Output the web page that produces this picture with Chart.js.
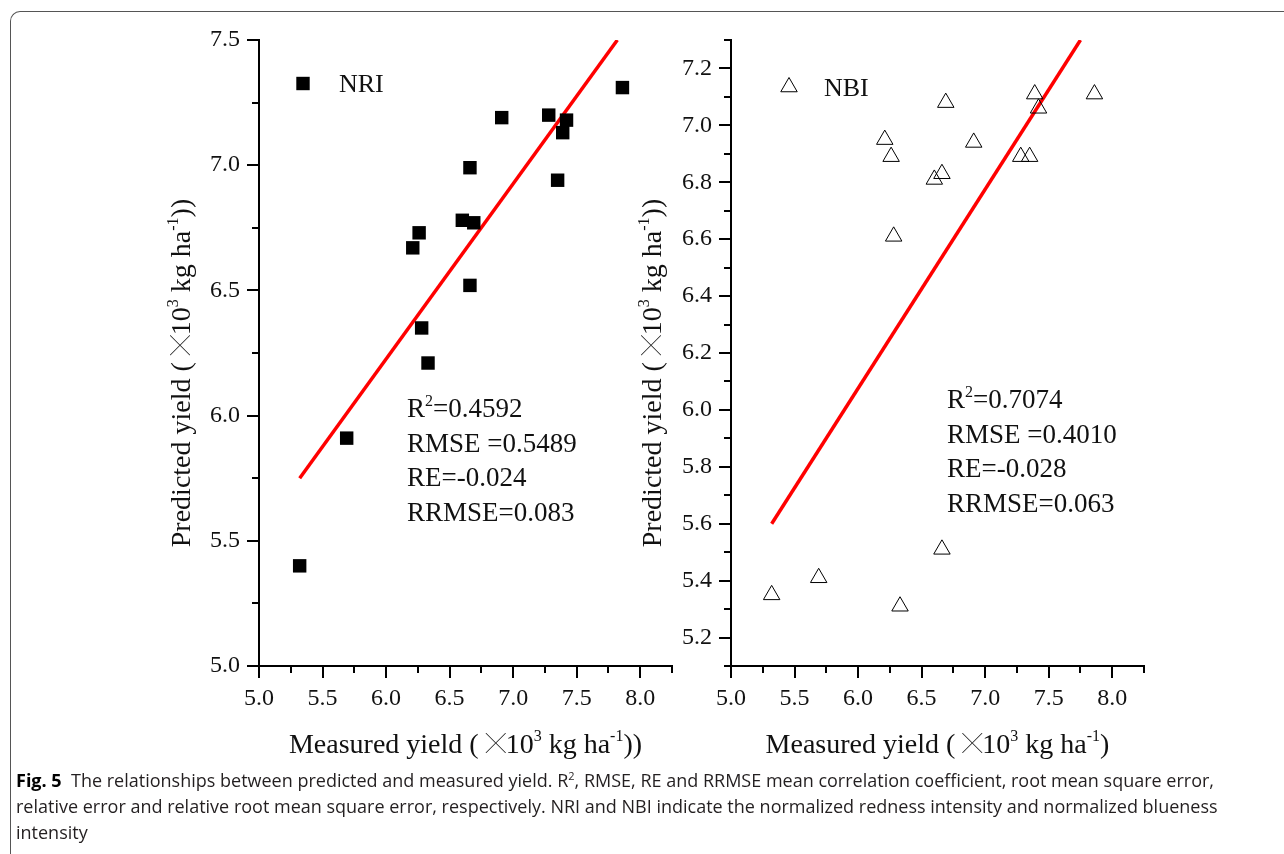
<!DOCTYPE html>
<html>
<head>
<meta charset="utf-8">
<title>Predicted vs measured yield</title>
<script src="https://cdn.jsdelivr.net/npm/chart.js@4.4.1/dist/chart.umd.min.js"></script>
<style>
  body { margin: 0; background: #fff; width: 1284px; height: 854px; overflow: hidden; position: relative; }
  #frame { position: absolute; left: 10px; top: 11px; width: 1400px; height: 900px;
           border-left: 1.5px solid #555; border-top: 1.5px solid #555; border-top-left-radius: 10px; }
  .plot { position: absolute; top: 0; }
  #plotNRI { left: 0; }
  #plotNBI { left: 600px; }
  #caption { position: absolute; left: 16px; top: 767px; white-space: nowrap;
             font-family: "Open Sans", "Noto Sans", sans-serif; font-size: 18px; line-height: 26px; color: #231f20; }
  #caption b { font-weight: 700; color: #000; }
  #caption sup { font-size: 11px; line-height: 0; }
</style>
</head>
<body>
<div id="frame"></div>
<canvas id="plotNRI" class="plot" width="700" height="780"></canvas>
<canvas id="plotNBI" class="plot" width="560" height="780"></canvas>
<div id="caption"><b>Fig. 5</b>&nbsp; The relationships between predicted and measured yield. R<sup>2</sup>, RMSE, RE and RRMSE mean correlation coefficient, root mean square error,<br>relative error and relative root mean square error, respectively. NRI and NBI indicate the normalized redness intensity and normalized blueness<br>intensity</div>

<script>
// measured yield (x10^3 kg/ha), shared by both panels
const measured = [5.32, 5.69, 6.21, 6.26, 6.28, 6.33, 6.60, 6.66, 6.66, 6.69, 6.91, 7.28, 7.35, 7.39, 7.42, 7.86];
// predicted yield from the NRI and NBI models
const predictedNRI = [5.40, 5.91, 6.67, 6.73, 6.35, 6.21, 6.78, 6.99, 6.52, 6.77, 7.19, 7.20, 6.94, 7.13, 7.18, 7.31];
const predictedNBI = [5.35, 5.41, 6.95, 6.89, 6.61, 5.31, 6.81, 6.83, 5.51, 7.08, 6.94, 6.89, 6.89, 7.11, 7.06, 7.11];

// fitted lines, start and end points
const fitNRIx = [5.32, 7.82];
const fitNRIy = [5.75, 7.50];
const fitNBIx = [5.32, 7.75];
const fitNBIy = [5.60, 7.30];

// statistics printed in each panel
const statNames = ['R', 'RMSE =', 'RE=', 'RRMSE='];
const statsNRI = ['0.4592', '0.5489', '-0.024', '0.083'];
const statsNBI = ['0.7074', '0.4010', '-0.028', '0.063'];

const SERIF = '"Liberation Serif", "Times New Roman", serif';
const CROSS = '╳';

function points(xs, ys) {
  return xs.map((x, i) => ({ x: x, y: ys[i] }));
}

// draws a row of text pieces; 's' = superscript, 'c' = the cross glyph
function fontFor(kind, size) {
  if (kind === 's') return Math.round(size * 0.58) + 'px ' + SERIF;
  if (kind === 'c') return Math.round(size * 0.72) + 'px "Noto Sans CJK SC", "DejaVu Sans", sans-serif';
  return size + 'px ' + SERIF;
}
function richWidth(ctx, parts, size) {
  let w = 0;
  parts.forEach(p => {
    ctx.font = fontFor(p[1], size);
    w += ctx.measureText(p[0]).width;
  });
  return w;
}
function drawRich(ctx, parts, x, y, size) {
  ctx.textBaseline = 'alphabetic';
  ctx.textAlign = 'left';
  parts.forEach(p => {
    ctx.font = fontFor(p[1], size);
    let dy = 0;
    if (p[1] === 's') dy = -size * 0.42;
    if (p[1] === 'c') dy = -size * 0.06;
    ctx.fillText(p[0], x, y + dy);
    x += ctx.measureText(p[0]).width;
  });
}

function unitTitle(word, closing) {
  return [[word + ' ( ', 'n'], [CROSS, 'c'], ['10', 'n'], ['3', 's'], [' kg ha', 'n'], ['-1', 's'], [closing, 'n']];
}

// outward ticks: long on labelled values, short on the rest
const tickMarks = {
  id: 'tickMarks',
  afterDraw(chart) {
    const ctx = chart.ctx;
    const sx = chart.scales.x, sy = chart.scales.y;
    ctx.save();
    ctx.strokeStyle = '#000';
    ctx.lineWidth = 2;
    sx.ticks.forEach(t => {
      const px = Math.round(sx.getPixelForValue(t.value));
      ctx.beginPath();
      ctx.moveTo(px, sx.top);
      ctx.lineTo(px, sx.top + (t.label ? 12 : 7));
      ctx.stroke();
    });
    sy.ticks.forEach(t => {
      const py = Math.round(sy.getPixelForValue(t.value));
      ctx.beginPath();
      ctx.moveTo(sy.right, py);
      ctx.lineTo(sy.right - (t.label ? 12 : 7), py);
      ctx.stroke();
    });
    ctx.restore();
  }
};

// axis titles, legend entry and the statistics block
const figureText = {
  id: 'figureText',
  afterDraw(chart, args, opts) {
    const ctx = chart.ctx;
    const a = chart.chartArea;
    ctx.save();
    ctx.fillStyle = '#111';

    // x title
    const xt = opts.xTitle;
    const xw = richWidth(ctx, xt, 28);
    drawRich(ctx, xt, (a.left + a.right) / 2 - xw / 2, a.bottom + 87, 28);

    // y title, rotated
    const yt = opts.yTitle;
    const yw = richWidth(ctx, yt, 28);
    ctx.save();
    ctx.translate(a.left - opts.yTitleGap, a.top + opts.yTitleMid);
    ctx.rotate(-Math.PI / 2);
    drawRich(ctx, yt, -yw / 2, 0, 28);
    ctx.restore();

    // legend entry
    const lg = opts.legend;
    const mx = a.left + lg.mx, my = a.top + lg.my;
    ctx.fillStyle = '#000';
    ctx.strokeStyle = '#000';
    ctx.lineWidth = 1;
    if (lg.style === 'rect') {
      ctx.fillRect(mx - 6.7, my - 6.7, 13.4, 13.4);
    } else {
      const r = 9.5;
      ctx.beginPath();
      ctx.moveTo(mx, my - r);
      ctx.lineTo(mx + r * 0.866, my + r / 2);
      ctx.lineTo(mx - r * 0.866, my + r / 2);
      ctx.closePath();
      ctx.stroke();
    }
    ctx.fillStyle = '#111';
    drawRich(ctx, [[lg.text, 'n']], a.left + lg.tx, a.top + lg.ty, 26);

    // statistics
    const st = opts.stats;
    st.values.forEach((v, i) => {
      const y = a.top + st.y + i * 34.5;
      const parts = i === 0
        ? [[statNames[0], 'n'], ['2', 's'], ['=' + v, 'n']]
        : [[statNames[i] + v, 'n']];
      drawRich(ctx, parts, a.left + st.x, y, 27);
    });
    ctx.restore();
  }
};

function makePanel(canvasId, pred, fitX, fitY, marker, yRange, yStep, yLabel, yWidth, padRight, text) {
  const scatter = {
    data: points(measured, pred),
    showLine: false,
    pointStyle: marker,
    pointRadius: 9.5,
    pointHoverRadius: 9.5,
    backgroundColor: marker === 'rect' ? '#000' : 'rgba(0,0,0,0)',
    borderColor: '#000',
    borderWidth: marker === 'rect' ? 0 : 1,
    order: 1
  };
  const fit = {
    data: points(fitX, fitY),
    showLine: true,
    borderColor: '#ff0000',
    borderWidth: 3.5,
    pointRadius: 0,
    order: 2
  };
  return new Chart(document.getElementById(canvasId), {
    type: 'scatter',
    data: { datasets: [scatter, fit] },
    plugins: [tickMarks, figureText],
    options: {
      responsive: false,
      animation: false,
      layout: { padding: { left: 0, top: 40, right: padRight, bottom: 34 } },
      scales: {
        x: {
          type: 'linear', min: 5, max: 8.25,
          afterFit: s => { s.height = 80; },
          border: { display: true, color: '#000', width: 2 },
          grid: { display: true, drawOnChartArea: false, drawTicks: true, tickLength: 12, color: 'rgba(0,0,0,0)' },
          ticks: {
            stepSize: 0.25, autoSkip: false, maxRotation: 0, padding: 6,
            color: '#111', font: { family: SERIF, size: 24 },
            callback: v => (Math.abs(v * 2 - Math.round(v * 2)) < 1e-6 ? v.toFixed(1) : '')
          }
        },
        y: {
          type: 'linear', min: yRange[0], max: yRange[1],
          afterFit: s => { s.width = yWidth; },
          border: { display: true, color: '#000', width: 2 },
          grid: { display: true, drawOnChartArea: false, drawTicks: true, tickLength: 12, color: 'rgba(0,0,0,0)' },
          ticks: {
            stepSize: yStep, autoSkip: false, padding: 7,
            color: '#111', font: { family: SERIF, size: 24 },
            callback: yLabel
          }
        }
      },
      plugins: {
        legend: { display: false },
        tooltip: { enabled: false },
        figureText: text
      }
    }
  });
}

makePanel('plotNRI', predictedNRI, fitNRIx, fitNRIy, 'rect',
  [5, 7.5], 0.25,
  v => (Math.abs(v * 2 - Math.round(v * 2)) < 1e-6 ? v.toFixed(1) : ''),
  259, 28,
  {
    xTitle: unitTitle('Measured yield', '))'),
    yTitle: unitTitle('Predicted yield', '))'),
    yTitleGap: 69, yTitleMid: 333,
    legend: { style: 'rect', text: 'NRI', mx: 44, my: 43.5, tx: 80, ty: 52 },
    stats: { values: statsNRI, x: 148, y: 377 }
  });

makePanel('plotNBI', predictedNBI, fitNBIx, fitNBIy, 'triangle',
  [5.1, 7.3], 0.1,
  v => (Math.round(v * 10) % 2 === 0 ? v.toFixed(1) : ''),
  131, 16,
  {
    xTitle: unitTitle('Measured yield', ')'),
    yTitle: unitTitle('Predicted yield', '))'),
    yTitleGap: 70, yTitleMid: 333,
    legend: { style: 'triangle', text: 'NBI', mx: 58, my: 47, tx: 93, ty: 56 },
    stats: { values: statsNBI, x: 216, y: 368 }
  });
</script>
</body>
</html>
